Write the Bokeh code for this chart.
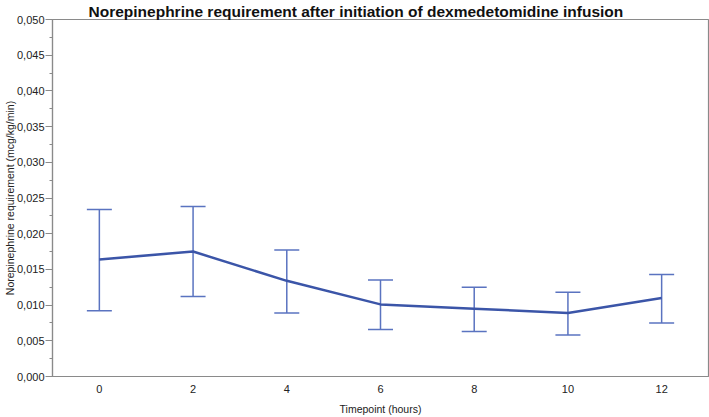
from bokeh.plotting import figure
from bokeh.models import ColumnDataSource, Whisker, TeeHead, Range1d, FixedTicker, CustomJSTickFormatter
from bokeh.embed import file_html
from bokeh.resources import INLINE

timepoints = [0, 2, 4, 6, 8, 10, 12]
mean_ne = [0.0164, 0.0175, 0.0134, 0.0101, 0.0095, 0.0089, 0.0110]
upper_ne = [0.0234, 0.0238, 0.0177, 0.0135, 0.0125, 0.0118, 0.0143]
lower_ne = [0.0092, 0.0112, 0.0089, 0.0066, 0.0063, 0.0058, 0.0075]
y_ticks = [0.000, 0.005, 0.010, 0.015, 0.020, 0.025, 0.030, 0.035, 0.040, 0.045, 0.050]

src = ColumnDataSource(dict(x=timepoints, m=mean_ne, u=upper_ne, l=lower_ne))

FONT = "Liberation Sans"
p = figure(frame_width=656, frame_height=357, output_backend="svg", toolbar_location=None,
           x_range=Range1d(-1, 13), y_range=Range1d(0, 0.05),
           min_border_left=0, min_border_right=2, min_border_top=0, min_border_bottom=0)
p.title.text = "Norepinephrine requirement after initiation of dexmedetomidine infusion"
p.title.text_font = FONT
p.title.text_font_size = "15.5px"
p.title.text_font_style = "bold"
p.title.align = "left"
p.title.offset = 36
p.title.standoff = 0
p.title.text_color = "#111111"

p.grid.visible = False
p.outline_line_color = "#8a8a8a"
p.outline_line_width = 1.2

p.xaxis.ticker = FixedTicker(ticks=timepoints)
p.xaxis.axis_label = "Timepoint (hours)"
p.yaxis.axis_label = "Norepinephrine requirement (mcg/kg/min)"
p.yaxis.ticker = FixedTicker(ticks=y_ticks, minor_ticks=[0.0025 + 0.005 * i for i in range(10)])
p.yaxis.formatter = CustomJSTickFormatter(code="return tick.toFixed(3).replace('.', ',');")
p.yaxis.major_tick_out = 7
p.yaxis.major_tick_in = 0
p.yaxis.minor_tick_out = 3
p.yaxis.minor_tick_in = 0
for ax in (p.xaxis, p.yaxis):
    ax.axis_line_color = "#8a8a8a"
    ax.axis_line_width = 1.2
    ax.major_label_text_font = FONT
    ax.major_label_text_font_size = "11px"
    ax.major_label_text_color = "#222222"
    ax.axis_label_text_font = FONT
    ax.axis_label_text_font_size = "10.5px"
    ax.axis_label_text_font_style = "normal"
    ax.axis_label_text_color = "#222222"
p.yaxis.major_tick_line_color = "#8a8a8a"
p.yaxis.minor_tick_line_color = "#8a8a8a"
p.xaxis.major_tick_line_color = None
p.xaxis.minor_tick_line_color = None
p.xaxis.major_label_standoff = 2
p.xaxis.axis_label_standoff = 7
p.yaxis.major_label_standoff = 1
p.yaxis.axis_label_standoff = -2

err_color = "#5a73c0"
w = Whisker(source=src, base="x", upper="u", lower="l",
            line_color=err_color, line_width=1.5,
            upper_head=TeeHead(size=25, line_color=err_color, line_width=1.5),
            lower_head=TeeHead(size=25, line_color=err_color, line_width=1.5))
p.add_layout(w)
p.line("x", "m", source=src, line_color="#3b55a8", line_width=2.5)

open("out.html", "w").write(file_html(p, INLINE))
